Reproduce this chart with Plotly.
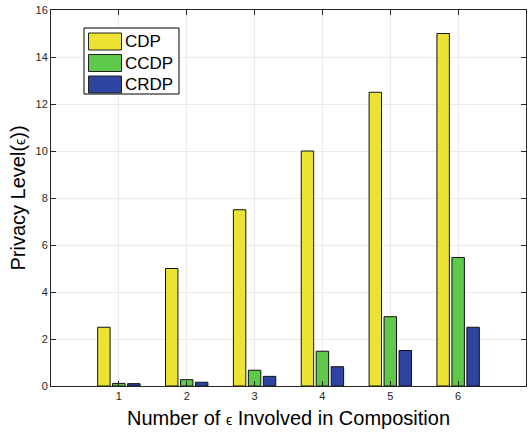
import plotly.graph_objects as go

categories = [1, 2, 3, 4, 5, 6]
cdp = [2.5, 5.0, 7.5, 10.0, 12.5, 15.0]
ccdp = [0.11, 0.27, 0.67, 1.48, 2.95, 5.47]
crdp = [0.1, 0.16, 0.41, 0.82, 1.51, 2.5]
series_names = ["CDP", "CCDP", "CRDP"]
colors = ["#ECE231", "#5FC94B", "#2D44A0"]
y_ticks = [0, 2, 4, 6, 8, 10, 12, 14, 16]

W, H = 528, 433
ML, MR, MT, MB = 51, 2, 10, 47
PW, PH = W - ML - MR, H - MT - MB

fig = go.Figure()
for name, vals, col in zip(series_names, [cdp, ccdp, crdp], colors):
    fig.add_trace(go.Bar(
        x=categories, y=vals, name=name, showlegend=False,
        marker=dict(color=col, line=dict(color="#111111", width=1)),
    ))

axis_common = dict(
    showline=True, linecolor="#262626", linewidth=1, mirror="ticks",
    ticks="inside", ticklen=5, tickcolor="#262626",
    showgrid=True, gridcolor="#ebebeb", gridwidth=1,
    zeroline=False,
    tickfont=dict(family="Liberation Sans, Arial, sans-serif", size=11, color="#262626"),
)

eps = '<span style="font-size:14px">ϵ</span>'

fig.update_layout(
    width=W, height=H,
    margin=dict(l=ML, r=MR, t=MT, b=MB),
    paper_bgcolor="white", plot_bgcolor="white",
    barmode="group", bargap=0.338, bargroupgap=0.17,
    font=dict(family="Liberation Sans, Arial, sans-serif", color="#000000"),
    xaxis=dict(range=[0, 7], tickvals=categories, **axis_common,
               title=dict(text=f"Number of {eps} Involved in Composition",
                          font=dict(size=20, color="#000000"), standoff=9)),
    yaxis=dict(range=[0, 16], tickvals=y_ticks, **axis_common,
               title=dict(text=f"Privacy Level({eps}))",
                          font=dict(size=20, color="#000000"), standoff=4)),
    showlegend=False,
)

# Legend drawn as a box with large swatches (MATLAB style)
def px(x):
    return (x - ML) / PW

def py(y):
    return (H - MB - y) / PH

box = dict(x0=84, x1=179, y0=28, y1=94)
fig.add_shape(type="rect", xref="paper", yref="paper",
              x0=px(box["x0"]), x1=px(box["x1"]), y0=py(box["y1"]), y1=py(box["y0"]),
              line=dict(color="#000000", width=1), fillcolor="white", layer="above")
row_h = 21.5
first_c = 41.5
for i, (name, col) in enumerate(zip(series_names, colors)):
    c = first_c + i * row_h
    fig.add_shape(type="rect", xref="paper", yref="paper",
                  x0=px(88.5), x1=px(121.5), y0=py(c + 8.5), y1=py(c - 8.5),
                  line=dict(color="#222222", width=1), fillcolor=col, layer="above")
    fig.add_annotation(xref="paper", yref="paper", x=px(123), y=py(c),
                       xanchor="left", yanchor="middle", showarrow=False,
                       text=name, font=dict(size=17, color="#000000"))

fig.write_html("out.html")
